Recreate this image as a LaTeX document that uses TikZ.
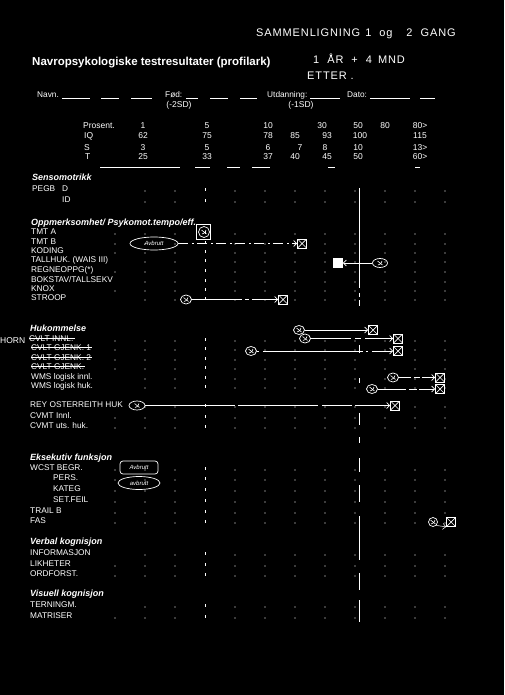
\documentclass[tikz,border=0pt]{standalone}
\usepackage{fontspec}
\setmainfont{Liberation Sans}
\usetikzlibrary{arrows.meta,shapes.geometric}
\begin{document}
\begin{tikzpicture}[x=1pt,y=-1pt,
  every node/.style={text=white, inner sep=0pt},
  lbl/.style={anchor=base west, font=\fontsize{8.3}{9}\selectfont},
  hd/.style={anchor=base west, font=\fontsize{9}{10}\selectfont\bfseries\itshape},
  num/.style={anchor=base, font=\fontsize{8.5}{9}\selectfont},
  hw/.style={anchor=base west, font=\fontsize{11}{12}\selectfont\addfontfeature{LetterSpace=8}},
  ln/.style={draw=white, line width=0.6pt},
  circ/.style={draw=white, line width=0.7pt, ellipse, minimum width=11pt, minimum height=9pt,
    path picture={\draw[white,line width=0.6pt]
      ([shift={(-2.5pt,2pt)}]path picture bounding box.center) -- ([shift={(2.5pt,-2pt)}]path picture bounding box.center)
      ([shift={(-2pt,-2pt)}]path picture bounding box.center) .. controls ([shift={(1pt,-1pt)}]path picture bounding box.center) .. ([shift={(2pt,2pt)}]path picture bounding box.center);}},
  xbox/.style={draw=white, line width=0.8pt, minimum size=9pt,
    path picture={\draw[white,line width=0.7pt]
      (path picture bounding box.north west) -- (path picture bounding box.south east)
      (path picture bounding box.north east) -- (path picture bounding box.south west);}},
  arr/.style={draw=white, line width=0.7pt, -{Straight Barb[length=3pt,width=6pt]}},
  oval/.style={draw=white, ellipse, line width=0.7pt, font=\fontsize{6}{7}\selectfont\itshape},
  strike/.style={draw=white, line width=0.8pt},
]
\fill[black] (0,0) rectangle (504,695);
\useasboundingbox (0,0) rectangle (504,695);

% handwritten heading
\node[hw] (hwa) at (256,37) {SAMMENLIGNING\hspace{5pt}1\hspace{8pt}og\hspace{14pt}2\hspace{8pt}GANG};
\node[hw] (hwb) at (313,64) {1\hspace{8pt}ÅR\hspace{8pt}+\hspace{8pt}4\hspace{6pt}MND};
\node[hw] (hwc) at (307,80) {ETTER .};

% title
\node[anchor=base west, font=\fontsize{11.5}{13}\selectfont\bfseries] (title) at (32,66) {Navropsykologiske testresultater (profilark)};

% Navn row
\node[lbl] (navn) at (37,98) {Navn.};
\node[lbl] (fod) at (165,98) {Fød:};
\node[lbl] (utd) at (267,98) {Utdanning:};
\node[lbl] (dato) at (347,98) {Dato:};
\foreach \a/\b in {62/90,101/119,131/152,186/198,210/228,240/257,310/340,370/410,420/435}
  \draw[ln] (\a,98) -- (\b,98);

% score table
\node[num] (sd2) at (179,108) {(-2SD)};
\node[num] (sd1) at (301,108) {(-1SD)};
\node[lbl, font=\fontsize{8.5}{9}\selectfont] (tp) at (83,129) {Prosent.};
\node[lbl, font=\fontsize{8.5}{9}\selectfont] (tiq) at (84,139) {IQ};
\node[lbl, font=\fontsize{8.5}{9}\selectfont] (ts) at (84,150) {S};
\node[lbl, font=\fontsize{8.5}{9}\selectfont] (tt) at (85,160) {T};
\foreach \x/\v [count=\i] in {143/1,207/5,268/10,322/30,358/50,385/80,420/80>}
  \node[num] (p\i) at (\x,129) {\v};
\foreach \x/\v [count=\i] in {143/62,207/75,268/78,295/85,327/93,360/100,420/115}
  \node[num] (q\i) at (\x,139) {\v};
\foreach \x/\v [count=\i] in {143/3,207/5,268/6,300/7,325/8,358/10,420/13>}
  \node[num] (s\i) at (\x,150) {\v};
\foreach \x/\v [count=\i] in {143/25,207/33,268/37,295/40,327/45,358/50,420/60>}
  \node[num] (t\i) at (\x,160) {\v};
\foreach \a/\b in {100/180,195/210,227/240,252/270,328/335,415/420}
  \draw[ln] (\a,167) -- (\b,167);

% section headings
\node[hd] (hsen) at (32,180) {Sensomotrikk};
\node[hd] (hopp) at (31,225) {Oppmerksomhet/ Psykomot.tempo/eff.};
\node[hd] (hhuk) at (30,331) {Hukommelse};
\node[hd] (heks) at (30,460) {Eksekutiv funksjon};
\node[hd] (hver) at (30,544) {Verbal kognisjon};
\node[hd] (hvis) at (30,596) {Visuell kognisjon};

% row labels
\node[lbl] (r1) at (32,191) {PEGB};
\node[lbl] (r1b) at (62,191) {D};
\node[lbl] (r2) at (62,202) {ID};
\node[lbl] (r3) at (31,234) {TMT A};
\node[lbl] (r4) at (31,244) {TMT B};
\node[lbl] (r5) at (31,253) {KODING};
\node[lbl] (r6) at (31,262) {TALLHUK. (WAIS III)};
\node[lbl] (r7) at (31,272) {REGNEOPPG(*)};
\node[lbl] (r8) at (31,282) {BOKSTAV/TALLSEKV};
\node[lbl] (r9) at (31,291) {KNOX};
\node[lbl] (r10) at (31,300) {STROOP};
\node[lbl] (r11) at (29,341) {CVLT INNL.};
\node[lbl] (r12) at (31,350) {CVLT GJENK. 1};
\node[lbl] (r13) at (31,360) {CVLT GJENK. 2};
\node[lbl] (r14) at (31,369) {CVLT GJENK.};
\node[lbl] (r15) at (31,379) {WMS logisk innl.};
\node[lbl] (r16) at (31,388) {WMS logisk huk.};
\node[lbl] (r17) at (30,407) {REY OSTERREITH HUK};
\node[lbl] (r18) at (30,418) {CVMT Innl.};
\node[lbl] (r19) at (30,428) {CVMT uts. huk.};
\node[lbl] (r20) at (30,470) {WCST BEGR.};
\node[lbl] (r21) at (53,480) {PERS.};
\node[lbl] (r22) at (53,491) {KATEG};
\node[lbl] (r23) at (53,502) {SET.FEIL};
\node[lbl] (r24) at (30,513) {TRAIL B};
\node[lbl] (r25) at (30,523) {FAS};
\node[lbl] (r26) at (30,555) {INFORMASJON};
\node[lbl] (r27) at (30,566) {LIKHETER};
\node[lbl] (r28) at (30,576) {ORDFORST.};
\node[lbl] (r29) at (30,607) {TERNINGM.};
\node[lbl] (r30) at (30,618) {MATRISER};

% strike-through of CVLT rows
\foreach \n in {r11,r12,r13,r14}
  \draw[strike] ([yshift=-0.5pt]\n.west) -- ([xshift=1pt,yshift=-0.5pt]\n.east);

% margin note
\node[lbl, font=\fontsize{8.5}{9}\selectfont] (marg) at (0,343) {HORN};

% grid of dots
\foreach \y in {191,202,234,244,253,262,272,282,291,300,341,350,360,369,379,388,407,418,428,470,480,491,502,513,523,555,566,576,607,618}{
  \foreach \x in {145,175,235,265,295,325,355,385,415,445}
    \fill[white] (\x,\y) circle (0.6pt);
  \draw[white,line width=0.8pt] (205,\y-3) -- (205,\y);
}
\foreach \y in {234,244,253,272,291,341,350,360,369,418,428,470,480,491,502,513,523,566,576,618}
  \fill[white] (115,\y) circle (0.6pt);

% 50-percentile line
\foreach \a/\b in {188/288,293/297,300/306,345/353,378/383,413/425,437/443,458/472,485/502,516/560,573/590,600/622}
  \draw[white,line width=0.8pt] (359,\a) -- (359,\b);

% ---- handwritten annotations ----
% TMT A
\node[draw=white, line width=0.8pt, minimum width=14pt, minimum height=15pt] (bxa) at (203,232) {};
\node[circ, minimum width=11pt, minimum height=11pt] (cia) at (204,232) {};
% TMT B
\node[oval, minimum width=48pt, minimum height=13pt] (ova) at (154,243.5) {Avbrutt};
\node[xbox] (xb) at (302,243.5) {};
\draw[arr, dash pattern=on 10pt off 4pt on 2pt off 3pt] (ova) -- (xb);
% TALLHUK
\node[xbox, fill=white] (xc) at (338,263) {};
\node[circ, minimum width=15pt, minimum height=9pt] (cc) at (380,263) {};
\draw[arr] (cc) -- (xc);
% STROOP
\node[circ] (cd) at (186,299.5) {};
\node[xbox] (xd) at (283,299.5) {};
\draw[arr, dash pattern=on 50pt off 3pt on 4pt off 3pt] (cd) -- (xd);
% Hukommelse
\node[circ] (ce) at (299,330) {};
\node[circ] (cf) at (305,338.5) {};
\node[circ] (cg) at (251,351) {};
\node[xbox] (xe) at (373,330) {};
\node[xbox] (xf) at (398,338.5) {};
\node[xbox] (xg) at (398,351) {};
\draw[arr] (ce) -- (xe);
\draw[arr, dash pattern=on 40pt off 4pt on 6pt off 4pt] (cf) -- (xf);
\draw[arr, dash pattern=on 2pt off 4pt on 100pt off 3pt] (cg) -- (xg);
% WMS
\node[circ] (ch) at (393,377.5) {};
\node[xbox] (xh) at (440,377.5) {};
\draw[arr, dash pattern=on 12pt off 3pt on 6pt off 2pt] (ch) -- (xh);
\node[circ] (ci) at (372,389) {};
\node[xbox] (xi) at (440,389) {};
\draw[arr, dash pattern=on 28pt off 3pt on 8pt off 2pt] (ci) -- (xi);
% REY
\node[circ, minimum width=16pt, minimum height=9pt] (cj) at (137,405.5) {};
\node[xbox] (xj) at (395,405.5) {};
\draw[arr, dash pattern=on 90pt off 3pt on 80pt off 4pt on 30pt off 3pt] (cj) -- (xj);
% WCST
\node[draw=white, line width=0.7pt, rounded corners=3pt, minimum width=38pt, minimum height=13pt,
      font=\fontsize{6}{7}\selectfont\itshape] (rk) at (139,467.5) {Avbrutt};
\node[oval, minimum width=42pt, minimum height=13pt] (ol) at (139,483) {avbrutt};
% FAS
\node[circ, minimum width=9pt, minimum height=9pt] (cm) at (433,522) {};
\node[xbox] (xm) at (451,522) {};
\draw[arr, line width=0.5pt] (cm.south east) -- (xm.south west);
\end{tikzpicture}
\end{document}
